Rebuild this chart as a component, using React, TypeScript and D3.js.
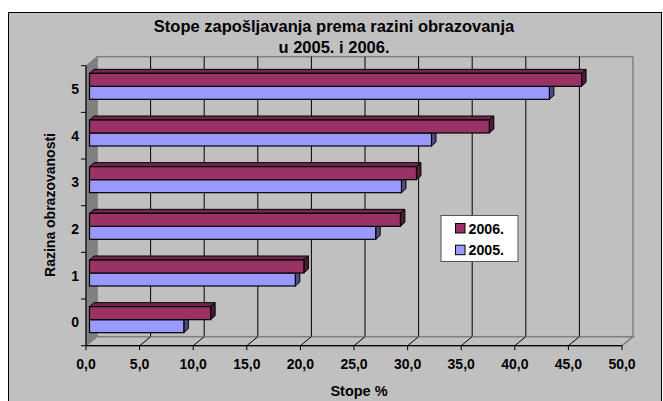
import React from 'react';
import * as d3 from 'd3';

// data
const categories = ['0', '1', '2', '3', '4', '5'];
const seriesNames = ['2006.', '2005.'];
const values2006 = [11.3, 20.0, 29.0, 30.5, 37.3, 45.9];
const values2005 = [8.8, 19.2, 26.7, 29.1, 31.9, 42.9];
const xTicks = [0, 5, 10, 15, 20, 25, 30, 35, 40, 45, 50];
const titleLines = ['Stope zapošljavanja prema razini obrazovanja', 'u 2005. i 2006.'];

const fills = ['#993366', '#9999FF'];
const tops = ['#73264D', '#7373BF'];
const sides = ['#4D1A33', '#4D4D80'];

const W = 663;
const H = 401;
const left = 86, right = 622, top = 65.7, bottom = 345.7;
// depth of the 3D box and of the bars
const DX = 11, DY = -9;
const BX = 3.5, BY = -2.7;
const BDX = 4.5, BDY = -4;
const font = 'Liberation Sans, Arial, sans-serif';

const fmt = (v: number) => d3.format('.1f')(v).replace('.', ',');

export default function App() {
  const x = d3.scaleLinear().domain([0, 50]).range([left, right]);
  const y = d3.scaleBand<string>()
    .domain([...categories].reverse())
    .range([top, bottom])
    .paddingInner(0.443)
    .paddingOuter(0.2215);
  const sub = d3.scaleBand<string>().domain(seriesNames).range([0, y.bandwidth()]);
  const step = y.step();
  const bandEdges = d3.range(categories.length + 1).map(i => top + i * step);

  const seriesVals = [values2006, values2005];

  const bar = (cat: string, si: number, v: number) => {
    const x0 = x(0) + BX;
    const x1 = x(v) + BX;
    const y0 = (y(cat) ?? 0) + (sub(seriesNames[si]) ?? 0) + BY;
    const h = sub.bandwidth();
    const topFace = `M${x0},${y0}L${x0 + BDX},${y0 + BDY}L${x1 + BDX},${y0 + BDY}L${x1},${y0}Z`;
    const sideFace = `M${x1},${y0}L${x1 + BDX},${y0 + BDY}L${x1 + BDX},${y0 + h + BDY}L${x1},${y0 + h}Z`;
    return (
      <g key={cat + si}>
        <path d={topFace} fill={tops[si]} stroke="#000" strokeWidth={1} strokeLinejoin="round" />
        <path d={sideFace} fill={sides[si]} stroke="#000" strokeWidth={1} strokeLinejoin="round" />
        <rect x={x0} y={y0} width={x1 - x0} height={h} fill={fills[si]} stroke="#000" strokeWidth={1.2} />
      </g>
    );
  };

  return (
    <>
      <style>{`body{margin:0}`}</style>
      <svg width={W} height={H} style={{ display: 'block', fontFamily: font }}>
        <rect x={0} y={0} width={W} height={H} fill="#fff" />
        <rect x={8.5} y={12.5} width={653} height={400} fill="#C0C0C0" stroke="#000" strokeWidth={1} />

        {/* title */}
        {titleLines.map((t, i) => (
          <text key={i} x={334} y={31.7 + i * 21.6} textAnchor="middle" fontSize={16.5} fontWeight="bold" fill="#000">{t}</text>
        ))}

        {/* back wall */}
        <rect x={left + DX} y={top + DY} width={right - left} height={bottom - top} fill="#C0C0C0" stroke="#808080" strokeWidth={1.5} />
        {xTicks.slice(1, -1).map(v => (
          <line key={v} x1={x(v) + DX} x2={x(v) + DX} y1={top + DY} y2={bottom + DY} stroke="#000" strokeWidth={1} />
        ))}

        {/* floor */}
        <path
          d={`M${left},${bottom}L${right},${bottom}L${right + DX},${bottom + DY}L${left + DX},${bottom + DY}Z`}
          fill="#C0C0C0" stroke="#808080" strokeWidth={1.5}
        />
        {xTicks.slice(1, -1).map(v => (
          <line key={v} x1={x(v)} y1={bottom} x2={x(v) + DX} y2={bottom + DY} stroke="#000" strokeWidth={1} />
        ))}

        {/* left wall */}
        <path
          d={`M${left},${top}L${left + DX},${top + DY}L${left + DX},${bottom + DY}L${left},${bottom}Z`}
          fill="#808080" stroke="#808080" strokeWidth={1}
        />

        {/* axes */}
        <line x1={left} x2={left} y1={top} y2={bottom} stroke="#000" strokeWidth={1.2} />
        {bandEdges.map((e, i) => (
          <line key={i} x1={left - 5} x2={left} y1={e} y2={e} stroke="#000" strokeWidth={1} />
        ))}
        <line x1={left} x2={right} y1={bottom} y2={bottom} stroke="#000" strokeWidth={1.2} />
        {xTicks.map(v => (
          <line key={v} x1={x(v)} x2={x(v)} y1={bottom} y2={bottom + 4.5} stroke="#000" strokeWidth={1} />
        ))}

        {/* bars */}
        {categories.map((c, ci) => (
          <g key={c}>
            {bar(c, 1, seriesVals[1][ci])}
            {bar(c, 0, seriesVals[0][ci])}
          </g>
        ))}

        {/* tick labels */}
        {categories.map(c => (
          <text key={c} x={79} y={(y(c) ?? 0) + y.bandwidth() / 2} dy="0.35em" textAnchor="end" fontSize={14} fontWeight="bold">{c}</text>
        ))}
        {xTicks.map(v => (
          <text key={v} x={x(v)} y={368.7} textAnchor="middle" fontSize={14} fontWeight="bold">{fmt(v)}</text>
        ))}

        {/* axis titles */}
        <text x={359} y={395.7} textAnchor="middle" fontSize={14.5} fontWeight="bold">Stope %</text>
        <text transform="translate(55,205) rotate(-90)" textAnchor="middle" fontSize={14} fontWeight="bold">Razina obrazovanosti</text>

        {/* legend */}
        <rect x={441} y={215.5} width={77} height={46} fill="#fff" stroke="#555" strokeWidth={1} />
        {seriesNames.map((s, i) => (
          <g key={s}>
            <rect x={455.5} y={223.5 + i * 21.7} width={9.5} height={9.5} fill={fills[i]} stroke="#000" strokeWidth={1} />
            <text x={468.5} y={233.6 + i * 21.7} fontSize={14.2} fontWeight="bold">{s}</text>
          </g>
        ))}
      </svg>
    </>
  );
}
